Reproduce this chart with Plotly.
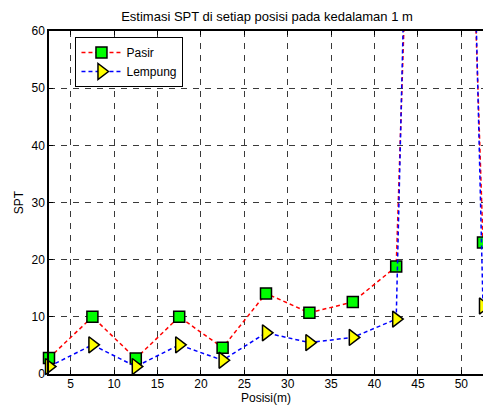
import plotly.graph_objects as go

posisi = [2.5, 7.5, 12.5, 17.5, 22.5, 27.5, 32.5, 37.5, 42.5, 47.5, 52.5]
pasir = [2.8, 10.0, 2.7, 10.0, 4.6, 14.1, 10.7, 12.6, 18.8, 254.0, 23.0]
lempung = [1.3, 5.1, 1.3, 5.1, 2.4, 7.2, 5.5, 6.4, 9.6, 330.0, 11.9]
x_ticks = [5, 10, 15, 20, 25, 30, 35, 40, 45, 50]
y_ticks = [0, 10, 20, 30, 40, 50, 60]

FONT = "Liberation Sans, Arial, Helvetica, sans-serif"

fig = go.Figure()
fig.add_trace(go.Scatter(
    x=posisi, y=pasir, name="Pasir", mode="lines+markers", cliponaxis=False,
    line=dict(color="#ff0000", width=1.5, dash="4px,3px"),
    marker=dict(symbol="square", size=11, color="#00ff00",
                line=dict(color="black", width=1.5)),
))
fig.add_trace(go.Scatter(
    x=posisi, y=lempung, name="Lempung", mode="lines+markers", cliponaxis=False,
    line=dict(color="#0000ff", width=1.5, dash="4px,3px"),
    marker=dict(symbol="triangle-right", size=14, color="#ffff00",
                line=dict(color="black", width=1.5)),
))

axis_common = dict(
    showline=True, linecolor="black", linewidth=1.5,
    ticks="inside", ticklen=4, tickcolor="black", tickwidth=1,
    showgrid=True, gridcolor="#3a3a3a", gridwidth=1, griddash="6px,6px",
    zeroline=False, tickfont=dict(family=FONT, size=12, color="black"),
)

fig.update_layout(
    width=483, height=408,
    margin=dict(l=48.5, r=0, t=31, b=34),
    paper_bgcolor="white", plot_bgcolor="white",
    font=dict(family=FONT, size=12, color="black"),
    title=dict(text="Estimasi SPT di setiap posisi pada kedalaman 1 m",
               x=267 / 483, xanchor="center", y=1 - 16 / 408, yanchor="middle",
               font=dict(family=FONT, size=13, color="black")),
    xaxis=dict(range=[2.5, 52.5], tickvals=x_ticks, ticklabelstandoff=-2,
               mirror="ticks",
               title=dict(text="Posisi(m)", standoff=3,
                          font=dict(family=FONT, size=12)),
               **axis_common),
    yaxis=dict(range=[0, 60], tickvals=y_ticks, mirror=False,
               title=dict(text="SPT", standoff=5,
                          font=dict(family=FONT, size=12)),
               **axis_common),
    legend=dict(x=0.061, y=0.9825, xanchor="left", yanchor="top",
                bgcolor="white", bordercolor="black", borderwidth=1,
                font=dict(family=FONT, size=12, color="black"),
                tracegroupgap=0, itemwidth=40),
    showlegend=True,
)

fig.write_html(
    "out.html",
    config={"displayModeBar": False},
    post_script="document.body.style.margin='0';document.body.style.overflow='hidden';",
)
